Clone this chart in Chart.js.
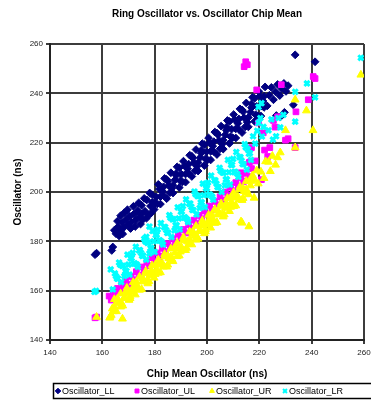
<!DOCTYPE html>
<html>
<head>
<meta charset="utf-8">
<script src="https://cdn.jsdelivr.net/npm/chart.js@4.4.0/dist/chart.umd.min.js"></script>
<style>
  html, body { margin: 0; padding: 0; background: #fff; }
</style>
</head>
<body>
<canvas id="myChart" width="371" height="401"></canvas>
<script>
const chartTitle = "Ring Oscillator vs. Oscillator Chip Mean";
const xTitle = "Chip Mean Oscillator (ns)";
const yTitle = "Oscillator (ns)";
const seriesNames = ["Oscillator_LL", "Oscillator_UL", "Oscillator_UR", "Oscillator_LR"];
const xTicks = [140, 160, 180, 200, 220, 240, 260];
const yTicks = [140, 160, 180, 200, 220, 240, 260];

// [chip mean, oscillator] pairs
const oscLL = [
  [157.2,174.6],[157.8,175.2],[163.6,176.3],[164.0,177.7],[164.6,184.5],[165.2,183.1],[166.0,185.9],[166.8,184.4],
  [167.5,187.6],[168.2,185.6],[169.0,188.9],[169.8,186.9],[170.5,190.2],[171.2,187.8],[172.0,191.0],[172.8,188.6],
  [173.5,192.4],[174.2,190.0],[175.0,194.6],[175.6,188.9],[176.3,192.2],[177.0,196.8],[177.7,190.6],[178.4,194.3],
  [179.0,198.9],[179.8,192.9],[180.6,198.0],[181.4,203.1],[182.2,195.1],[183.0,200.3],[183.8,205.5],[184.6,197.3],
  [185.4,202.6],[186.2,207.8],[187.0,199.6],[187.8,204.9],[188.6,210.2],[189.4,201.8],[190.2,207.2],[191.0,212.5],
  [191.8,204.0],[192.6,209.4],[193.4,214.9],[194.2,206.3],[195.0,211.8],[195.8,217.2],[196.6,208.5],[197.4,214.0],
  [198.2,219.6],[199.0,210.7],[199.8,216.3],[200.6,221.9],[201.4,213.0],[202.2,218.6],[203.0,224.3],[203.8,215.2],
  [204.6,220.9],[205.4,226.7],[206.2,217.4],[207.0,223.2],[207.8,229.0],[208.6,219.7],[209.4,225.5],[210.2,231.4],
  [211.0,221.9],[211.8,227.8],[212.6,233.7],[213.4,224.1],[214.2,230.1],[215.0,236.1],[215.8,226.4],[216.6,232.4],
  [217.4,238.4],[218.2,228.6],[219.0,234.7],[219.8,240.8],[220.6,230.8],[221.4,236.9],[222.2,242.6],
  [180.2,195.5],[181.8,201.2],[183.4,198.5],[185.0,204.4],[186.6,201.5],[188.2,207.5],[189.8,204.5],[191.4,210.6],
  [193.0,207.5],[194.6,213.8],[196.2,210.4],[197.8,216.9],[199.4,213.4],[201.0,220.0],[202.6,216.4],[204.2,223.2],
  [205.8,219.4],[207.4,226.3],[209.0,222.4],[210.6,229.4],[212.2,225.4],[213.8,232.6],[215.4,228.3],[217.0,235.7],
  [218.6,231.3],[220.2,238.9],[221.8,234.3],
  [181.0,195.2],[182.2,198.1],[183.4,202.1],[184.6,205.1],[185.8,199.7],[187.0,202.7],[188.2,206.7],[189.4,209.8],
  [190.6,204.1],[191.8,207.3],[193.0,211.3],[194.2,214.5],[195.4,208.6],[196.6,211.9],[197.8,215.8],[199.0,219.2],
  [200.2,213.0],[201.4,216.5],[202.6,220.4],[203.8,223.9],[205.0,217.5],[206.2,221.0],[207.4,225.0],[208.6,228.6],
  [209.8,222.0],[211.0,225.6],[212.2,229.6],[213.4,233.3],[214.6,226.4],[215.8,230.2],[217.0,234.2],[218.2,238.0],
  [219.4,230.9],[220.6,234.8],[221.8,238.8],
  [165.8,188.2],[167.0,190.4],[168.4,191.6],[169.6,192.8],[170.8,185.2],[171.9,194.2],[172.6,186.0],[173.9,195.6],
  [175.1,191.2],[176.0,197.4],[176.9,189.4],[178.1,199.6],[179.2,195.8],[178.6,191.4],[174.6,187.0],[167.8,183.0],
  [166.4,182.2],
  [223.0,234.9],[223.8,239.2],[224.6,242.4],[225.4,237.4],[226.2,240.6],[227.0,243.6],[227.8,239.1],[228.6,241.9],
  [229.4,244.0],[230.2,240.8],[231.0,243.1],
  [226.5,231.0],[228.0,230.4],[229.6,232.3],[233.0,235.3],[233.7,255.6],[241.3,252.8]
];

const oscUL = [
  [157.2,149.0],[157.8,149.3],
  [162.6,157.8],[163.4,156.2],[164.2,159.3],[165.0,157.7],[165.8,160.9],[166.6,159.2],[167.4,162.4],[168.2,160.7],
  [169.0,163.9],[170.0,162.5],[171.0,165.8],[172.0,164.4],[173.0,167.7],[174.0,166.3],[175.0,169.6],[176.0,168.2],
  [177.0,171.5],[178.0,170.1],[179.0,173.4],[180.0,172.0],[181.0,175.3],[182.0,173.9],[183.0,177.2],[184.0,175.8],
  [185.0,179.1],[186.0,177.7],[187.0,181.0],[188.0,179.6],[189.0,182.9],[190.0,181.5],[191.0,184.8],[192.0,183.4],
  [193.0,186.7],[194.0,185.3],[195.0,188.6],[196.0,187.2],[197.0,190.5],[198.0,189.1],[199.0,192.4],[200.0,191.0],
  [201.0,194.3],[202.0,192.9],[203.0,196.2],[204.0,194.8],[205.0,198.1],[206.0,196.7],[207.0,200.0],[208.0,198.6],
  [209.0,201.9],[210.0,200.5],[211.0,203.8],[212.0,202.4],[213.0,205.7],[214.0,204.3],[215.0,207.6],[216.0,206.2],
  [217.0,209.5],
  [213.0,207.8],[217.0,218.0],[218.4,212.6],[219.7,228.0],[220.8,205.0],[222.0,217.0],[223.2,214.4],[224.0,218.0],
  [225.4,229.0],[227.0,230.5],[228.4,243.5],[230.0,221.0],[231.0,221.6],[233.7,218.0],[234.0,232.5],[238.7,237.4],
  [241.3,246.0],[240.6,246.8],[214.8,252.8],[214.2,250.8],[215.4,251.6],[219.0,241.4],[221.5,224.0],[216.2,212.0],
  [226.0,226.3]
];

const oscUR = [
  [157.8,149.3],[162.8,149.0],[167.7,148.6],
  [163.0,149.4],[163.8,152.7],[164.6,156.5],[165.4,151.6],[166.2,155.0],[167.0,158.8],[167.8,153.9],[168.6,157.3],
  [169.4,161.1],[170.2,156.2],[171.0,159.5],[171.8,163.4],[172.6,158.4],[173.4,161.8],[174.2,165.6],[175.0,160.6],
  [175.8,164.1],[176.6,167.9],[177.4,162.9],[178.2,166.3],[179.0,170.2],[179.8,165.2],[180.6,168.6],[181.4,172.5],
  [182.2,167.4],[183.0,170.9],[183.8,174.8],[184.6,169.7],[185.4,173.1],[186.2,177.0],[187.0,171.9],[187.8,175.4],
  [188.6,179.3],[189.4,174.2],[190.2,177.6],[191.0,181.6],[191.8,176.4],[192.6,179.9],[193.4,183.9],[194.2,178.7],
  [195.0,182.2],[195.8,186.2],[196.6,181.0],[197.4,184.5],[198.2,188.4],[199.0,183.2],[199.8,186.7],[200.6,190.7],
  [201.4,185.5],[202.2,189.0],[203.0,193.0],[203.8,187.7],[204.6,191.3],[205.4,195.3],[206.2,190.0],[207.0,193.5],
  [207.8,197.5],[208.6,192.2],[209.4,195.8],[210.2,199.8],[211.0,194.5],[211.8,198.1],[212.6,202.1],[213.4,196.7],
  [214.2,200.3],[215.0,204.4],[215.8,199.0],[216.6,202.6],[217.4,206.7],[218.2,204.9],[219.0,208.7],
  [164.2,151.6],[165.8,156.0],[167.4,154.7],[169.0,159.0],[170.6,157.7],[172.2,162.1],[173.8,160.7],[175.4,165.1],
  [177.0,163.7],[178.6,168.1],[180.2,166.7],[181.8,171.2],[183.4,169.7],[185.0,174.2],[186.6,172.7],[188.2,177.2],
  [189.8,175.8],[191.4,180.3],[193.0,178.8],[194.6,183.3],[196.2,181.8],[197.8,186.3],[199.4,184.9],[201.0,189.4],
  [202.6,187.9],[204.2,192.4],[205.8,190.9],[207.4,195.4],[209.0,193.9],[210.6,198.4],[212.2,196.9],[213.8,201.4],
  [215.4,199.9],[217.0,204.5],
  [163.4,150.1],[164.6,153.5],[165.8,156.8],[167.0,153.5],[168.2,156.9],[169.4,160.2],[170.6,156.9],[171.8,160.3],
  [173.0,163.6],[174.2,160.3],[175.4,163.7],[176.6,167.0],[177.8,163.8],[179.0,167.1],[180.2,170.4],[181.4,167.2],
  [182.6,170.5],[183.8,173.8],[185.0,170.5],[186.2,173.9],[187.4,177.2],[188.6,173.9],[189.8,177.3],[191.0,180.6],
  [192.2,177.3],[193.4,180.7],[194.6,184.0],[195.8,180.6],[197.0,184.1],[198.2,187.4],[199.4,184.0],[200.6,187.4],
  [201.8,190.9],[203.0,187.4],[204.2,190.8],[205.4,194.3],[206.6,190.8],[207.8,194.2],[209.0,197.7],[210.2,194.2],
  [211.4,197.7],[212.6,201.1],[213.8,197.5],[215.0,201.0],[216.2,204.5],
  [213.0,188.0],[213.4,187.5],[216.0,186.0],[218.0,197.6],[219.6,203.4],[220.6,208.2],[221.8,205.6],[222.4,212.4],
  [223.5,212.2],[224.2,208.4],[225.0,214.6],[226.2,211.0],[227.0,214.0],[228.0,216.0],[230.0,225.0],[233.7,218.0],
  [233.7,237.4],[238.0,233.0],[240.5,225.0],[258.8,247.5]
];

const oscLR = [
  [157.0,159.5],[157.6,159.9],[163.2,168.6],
  [164.0,160.5],[164.8,167.0],[165.6,164.9],[166.4,171.4],[167.2,163.5],[168.0,170.1],[168.8,167.9],[169.6,174.6],
  [170.4,166.5],[171.2,173.2],[172.0,171.0],[172.8,177.8],[173.6,169.6],[174.4,176.4],[175.2,174.1],[176.0,181.0],
  [176.8,172.6],[177.6,179.5],[178.4,177.2],[179.2,184.2],[180.0,175.7],[180.8,182.7],[181.6,180.3],[182.4,187.4],
  [183.2,178.7],[184.0,185.8],[184.8,183.4],[185.6,190.6],[186.4,181.7],[187.2,189.0],[188.0,186.5],[188.8,193.8],
  [189.6,184.8],[190.4,192.1],[191.2,189.6],[192.0,197.0],[192.8,187.8],[193.6,195.3],[194.4,192.7],[195.2,200.2],
  [196.0,190.9],[196.8,198.4],[197.6,195.8],[198.4,203.4],[199.2,193.9],[200.0,201.5],[200.8,198.9],[201.6,206.6],
  [202.4,196.9],[203.2,204.7],[204.0,202.0],[204.8,209.8],[205.6,200.0],[206.4,207.8],[207.2,205.1],[208.0,213.0],
  [208.8,203.0],[209.6,211.0],[210.4,208.1],[211.2,216.2],[212.0,206.1],[212.8,214.1],[213.6,211.3],[214.4,219.4],
  [215.2,209.1],[216.0,215.5],[216.8,213.0],[217.6,222.6],
  [165.2,165.9],[166.8,170.5],[168.4,165.9],[170.0,170.6],[171.6,175.3],[173.2,170.6],[174.8,175.3],[176.4,180.0],
  [178.0,175.1],[179.6,180.0],[181.2,184.8],[182.8,179.7],[184.4,184.6],[186.0,189.6],[187.6,184.4],[189.2,189.3],
  [190.8,194.3],[192.4,188.9],[194.0,194.0],[195.6,199.1],[197.2,193.5],[198.8,198.7],[200.4,203.8],[202.0,198.1],
  [203.6,203.4],[205.2,208.6],[206.8,202.7],[208.4,208.0],[210.0,213.4],[211.6,207.3],[213.2,212.7],[214.8,218.1],
  [216.4,215.8],
  [166.0,164.9],[167.6,170.0],[169.2,168.0],[170.8,173.1],[172.4,171.1],[174.0,176.3],[175.6,174.2],[177.2,179.4],
  [178.8,177.3],[180.4,182.6],[182.0,180.4],[183.6,185.8],[185.2,183.5],[186.8,188.9],[188.4,186.5],[190.0,192.0],
  [191.6,189.7],[193.2,195.2],[194.8,192.7],[196.4,198.3],[198.0,195.8],[199.6,201.5],[201.2,198.9],[202.8,204.7],
  [204.4,202.0],[206.0,207.8],[207.6,205.1],[209.2,211.0],[210.8,208.2],[212.4,214.1],[214.0,211.3],[215.6,217.3],
  [178.0,186.0],[176.8,181.8],[218.4,219.6],[219.2,224.8],[219.7,228.0],[219.7,234.5],[220.4,230.0],[220.8,236.0],
  [221.0,222.5],[221.6,226.4],[223.5,225.0],[224.6,229.4],[225.2,221.2],[226.4,222.6],[227.3,230.0],[228.0,226.2],
  [229.2,231.3],[233.7,228.5],[233.7,240.6],[238.2,244.0],[241.3,238.4],[258.8,254.4]
];

const toPoints = (pairs) => pairs.map(([x, y]) => ({ x: x, y: y }));

// legend drawn inside a bordered box under the axis title, like the original
const legendX = [58, 137, 212, 285];
const boxLegend = {
  id: "boxLegend",
  afterDraw(chart) {
    const ctx = chart.ctx;
    const y = 391;
    ctx.save();
    ctx.strokeStyle = "#000";
    ctx.lineWidth = 1.5;
    ctx.strokeRect(53.5, 383.5, 330, 15);
    chart.data.datasets.forEach((ds, i) => {
      ctx.fillStyle = ds.backgroundColor;
      ctx.strokeStyle = ds.borderColor;
      ctx.lineWidth = Math.min(ds.borderWidth, 2);
      Chart.helpers.drawPoint(ctx, {
        pointStyle: ds.pointStyle,
        radius: 2.8,
        rotation: 0,
        borderWidth: ds.borderWidth
      }, legendX[i], y);
      ctx.fillStyle = "#000";
      ctx.font = "9px 'Liberation Sans', Arial, sans-serif";
      ctx.textBaseline = "middle";
      ctx.textAlign = "left";
      ctx.fillText(ds.label, legendX[i] + 4, y + 0.5);
    });
    ctx.restore();
  }
};

Chart.defaults.font.family = "'Liberation Sans', Arial, sans-serif";
Chart.defaults.color = "#000";

const gridColor = "#3c3c3c";

const ctx = document.getElementById("myChart");
const myChart = new Chart(ctx, {
  type: "scatter",
  data: {
    datasets: [
      {
        label: seriesNames[0],
        data: toPoints(oscLL),
        pointStyle: "rectRot",
        pointRadius: 3.9,
        backgroundColor: "#000080",
        borderColor: "#000080",
        borderWidth: 1,
        order: 4,
      },
      {
        label: seriesNames[1],
        data: toPoints(oscUL),
        pointStyle: "rect",
        pointRadius: 4,
        backgroundColor: "#ff00ff",
        borderColor: "#ff00ff",
        borderWidth: 1,
        order: 3,
      },
      {
        label: seriesNames[2],
        data: toPoints(oscUR),
        pointStyle: "triangle",
        pointRadius: 4.5,
        backgroundColor: "#ffff00",
        borderColor: "#ffff00",
        borderWidth: 1,
        order: 2,
      },
      {
        label: seriesNames[3],
        data: toPoints(oscLR),
        pointStyle: "crossRot",
        pointRadius: 3.6,
        backgroundColor: "#00ffff",
        borderColor: "#00ffff",
        borderWidth: 3,
        order: 1,
      },
    ],
  },
  options: {
    responsive: false,
    animation: false,
    events: [],
    layout: {
      padding: { top: 0, right: 4, bottom: 21, left: 0 },
    },
    plugins: {
      legend: { display: false },
      tooltip: { enabled: false },
      title: {
        display: true,
        text: chartTitle,
        fullSize: false,
        font: { size: 10, weight: "bold" },
        color: "#000",
        padding: { top: 8, bottom: 24 },
      },
    },
    scales: {
      x: {
        type: "linear",
        min: xTicks[0],
        max: xTicks[xTicks.length - 1],
        afterBuildTicks: (scale) => {
          scale.ticks = xTicks.map((v) => ({ value: v }));
        },
        afterFit: (scale) => {
          scale.height = 40;
          scale.paddingLeft = 0;
          scale.paddingRight = 0;
        },
        ticks: { font: { size: 8 }, color: "#222", padding: 4, maxRotation: 0 },
        grid: { color: gridColor, lineWidth: 2, tickLength: 4, tickColor: gridColor },
        border: { display: true, color: "#222", width: 2 },
        title: {
          display: true,
          text: xTitle,
          font: { size: 10, weight: "bold" },
          color: "#000",
          padding: { top: 0, bottom: 0 },
        },
      },
      y: {
        type: "linear",
        min: yTicks[0],
        max: yTicks[yTicks.length - 1],
        afterBuildTicks: (scale) => {
          scale.ticks = yTicks.map((v) => ({ value: v }));
        },
        afterFit: (scale) => {
          scale.width = 50;
          scale.paddingTop = 0;
          scale.paddingBottom = 0;
        },
        ticks: { font: { size: 8 }, color: "#222", padding: 3 },
        grid: { color: gridColor, lineWidth: 2, tickLength: 4, tickColor: gridColor },
        border: { display: true, color: "#222", width: 2 },
        title: {
          display: true,
          text: yTitle,
          font: { size: 10, weight: "bold" },
          color: "#000",
          padding: { top: 12.5, bottom: 0 },
        },
      },
    },
  },
  plugins: [boxLegend],
});
</script>
</body>
</html>
